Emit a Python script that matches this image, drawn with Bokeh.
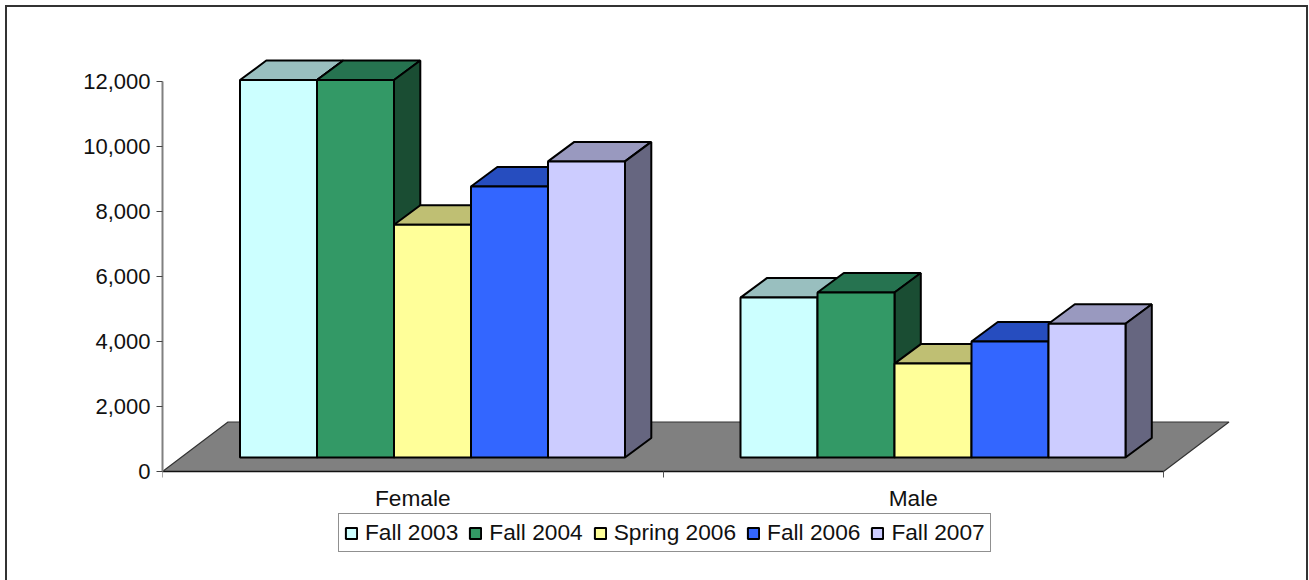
from bokeh.plotting import figure
from bokeh.embed import file_html
from bokeh.resources import INLINE
from bokeh.models import Range1d, FixedTicker, NumeralTickFormatter, Legend, LegendItem

categories = ["Female", "Male"]
series_names = ["Fall 2003", "Fall 2004", "Spring 2006", "Fall 2006", "Fall 2007"]
fall_2003 = [11615, 4920]
fall_2004 = [11615, 5075]
spring_2006 = [7160, 2890]
fall_2006 = [8340, 3570]
fall_2007 = [9110, 4115]
y_ticks = [0, 2000, 4000, 6000, 8000, 10000, 12000]
series_values = [fall_2003, fall_2004, spring_2006, fall_2006, fall_2007]

front_colors = ["#CCFFFF", "#339966", "#FFFF99", "#3366FF", "#CCCCFF"]
top_colors = ["#99BFBF", "#267350", "#BFBF73", "#264DBF", "#9999BF"]
side_colors = ["#668080", "#1A4D33", "#80804D", "#1A3380", "#666680"]

# layout, in pixels of the figure
W, H = 1309, 580
FRAME_L, FRAME_R, FRAME_T, FRAME_B = 162, 1240, 40, 575
ZERO_Y = 471
PX_X = 500.5            # pixels per category
PX_Y = 0.0325           # pixels per value unit
BAR_W = 77.0 / PX_X
FIRST = (239.5 - FRAME_L) / PX_X
BASE = (ZERO_Y - 457) / PX_Y
DX, DY = 26.3 / PX_X, 19.5 / PX_Y
FLOOR_DX, FLOOR_DY = 65.5 / PX_X, 49.5 / PX_Y
n_cat = len(categories)

p = figure(width=W, height=H, output_backend="svg", toolbar_location=None,
           x_range=Range1d(0, (FRAME_R - FRAME_L) / PX_X),
           y_range=Range1d(-(FRAME_B - ZERO_Y) / PX_Y, (ZERO_Y - FRAME_T) / PX_Y),
           min_border_left=FRAME_L, min_border_right=W - FRAME_R,
           min_border_top=FRAME_T, min_border_bottom=H - FRAME_B,
           x_axis_location="below", y_axis_location="left",
           background_fill_alpha=0, border_fill_alpha=0)
B = "linear-gradient(#333333,#333333)"
p.styles = {
    "position": "absolute", "left": "0px", "top": "0px",
    "background": (f"{B} 5px 5px/2px 575px no-repeat, {B} 5px 5px/1303px 2px no-repeat, "
                   f"{B} 1306px 5px/2px 575px no-repeat, white"),
}
p.outline_line_color = None
p.grid.visible = False

xa = p.xaxis[0]
xa.fixed_location = 0
xa.ticker = FixedTicker(ticks=[i + 0.5 for i in range(n_cat)], minor_ticks=list(range(n_cat + 1)))
xa.major_label_overrides = {i + 0.5: c for i, c in enumerate(categories)}
xa.major_tick_line_color = None
xa.major_tick_out = 0
xa.major_tick_in = 0
xa.minor_tick_out = 6
xa.minor_tick_in = 0
xa.minor_tick_line_color = "#555555"
xa.axis_line_color = "#111111"
xa.axis_line_width = 1.5
xa.bounds = (0, n_cat)
xa.major_label_standoff = 7
xa.major_label_text_font = "Liberation Sans"
xa.major_label_text_font_size = "22.7px"
xa.major_label_text_color = "#111111"

ya = p.yaxis[0]
ya.ticker = FixedTicker(ticks=y_ticks)
ya.formatter = NumeralTickFormatter(format="0,0")
ya.bounds = (0, 12000)
ya.major_tick_out = 6
ya.major_tick_in = 0
ya.minor_tick_out = 0
ya.minor_tick_in = 0
ya.major_tick_line_color = "#444444"
ya.axis_line_color = "#808080"
ya.axis_line_width = 2
ya.major_label_standoff = 6
ya.major_label_text_font = "Liberation Sans"
ya.major_label_text_font_size = "22px"
ya.major_label_text_color = "#111111"

# floor
p.patch([0, n_cat, n_cat + FLOOR_DX, FLOOR_DX], [0, 0, FLOOR_DY, FLOOR_DY],
        fill_color="#808080", line_color="#333333", line_width=1.2)

items = []
for s, (name, vals) in enumerate(zip(series_names, series_values)):
    lefts = [c + FIRST + s * BAR_W for c in range(n_cat)]
    rights = [l + BAR_W for l in lefts]
    tops = [BASE + v for v in vals]
    p.patches([[l, r, r + DX, l + DX] for l, r in zip(lefts, rights)],
              [[t, t, t + DY, t + DY] for t in tops],
              fill_color=top_colors[s], line_color="black", line_width=2)
    p.patches([[r, r + DX, r + DX, r] for r in rights],
              [[BASE, BASE + DY, t + DY, t] for t in tops],
              fill_color=side_colors[s], line_color="black", line_width=2)
    front = p.quad(left=lefts, right=rights, bottom=[BASE] * n_cat, top=tops,
                   fill_color=front_colors[s], line_color="black", line_width=2)
    items.append(LegendItem(label=name, renderers=[front]))

legend = Legend(items=items, orientation="horizontal", location=(176, FRAME_B - 552),
                glyph_width=14, glyph_height=14, label_standoff=7, spacing=10, padding=5, margin=0,
                label_text_font="Liberation Sans", label_text_font_size="22.7px",
                label_text_color="#111111", label_height=20,
                border_line_color="#222222", border_line_width=1.5,
                background_fill_color="white", background_fill_alpha=1)
p.add_layout(legend, "center")

open("out.html", "w").write(file_html(p, INLINE))
